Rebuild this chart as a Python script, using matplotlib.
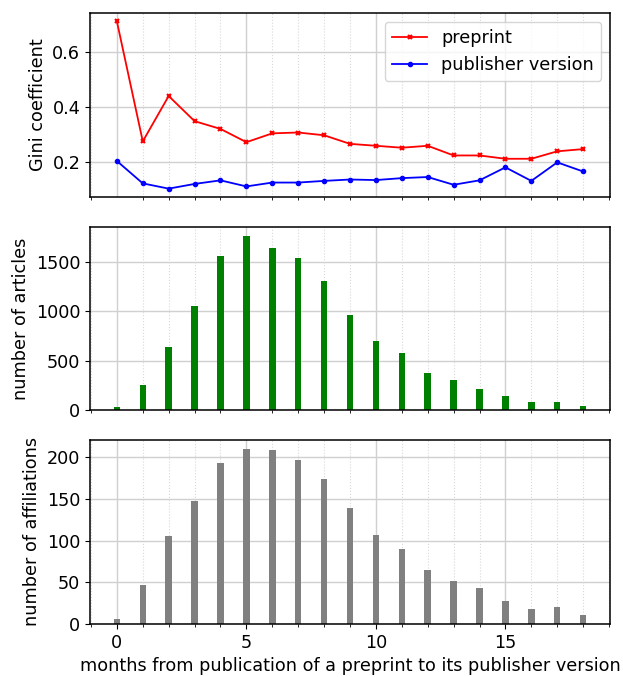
import matplotlib
matplotlib.use("Agg")
import matplotlib.pyplot as plt
from matplotlib.ticker import MultipleLocator

months = list(range(19))
gini_preprint = [0.710, 0.276, 0.440, 0.349, 0.321, 0.273, 0.305, 0.308, 0.298, 0.267,
                 0.260, 0.253, 0.260, 0.225, 0.225, 0.213, 0.213, 0.240, 0.248]
gini_publisher = [0.205, 0.124, 0.105, 0.122, 0.135, 0.113, 0.127, 0.127, 0.133, 0.138,
                  0.136, 0.143, 0.147, 0.119, 0.135, 0.182, 0.133, 0.200, 0.167]
n_articles = [27, 249, 632, 1053, 1554, 1762, 1638, 1537, 1302, 959,
              700, 572, 377, 303, 212, 145, 84, 84, 40]
n_affiliations = [6, 47, 105, 147, 193, 210, 209, 196, 174, 139,
                  107, 90, 65, 52, 43, 28, 18, 20, 11]

FS = 12.7
plt.rcParams['font.family'] = ['DejaVu Sans']
plt.rcParams['font.size'] = FS

fig = plt.figure(figsize=(6.23, 6.77), dpi=100)
L, W = 90/623, 520/623
ax1 = fig.add_axes([L, 1-197/677, W, 184/677])
ax2 = fig.add_axes([L, 1-410/677, W, 183/677], sharex=ax1)
ax3 = fig.add_axes([L, 1-624/677, W, 184/677], sharex=ax1)

ax1.plot(months, gini_preprint, color='red', marker='x', markersize=3, mew=1.5, lw=1.3, label='preprint')
ax1.plot(months, gini_publisher, color='blue', marker='o', markersize=3, lw=1.3, label='publisher version')
ax1.set_ylabel('Gini coefficient')
ax1.legend(loc='upper right', fontsize=FS)

ax2.bar(months, n_articles, width=0.25, color='green')
ax2.set_ylabel('number of articles')

ax3.bar(months, n_affiliations, width=0.25, color='gray')
ax3.set_ylabel('number of affiliations')
ax3.set_xlabel('months from publication of a preprint to its publisher version')

for ax in (ax1, ax2, ax3):
    ax.xaxis.set_major_locator(MultipleLocator(5))
    ax.xaxis.set_minor_locator(MultipleLocator(1))
    ax.grid(True, which='major', color='#d0d0d0', lw=1.0)
    ax.grid(True, which='minor', axis='x', color='#d8d8d8', lw=0.8, ls=':')
    ax.set_axisbelow(True)
    for s in ax.spines.values():
        s.set_linewidth(1.1)
for ax in (ax1, ax2):
    ax.tick_params(axis='x', which='major', length=0, labelbottom=False)
    ax.tick_params(axis='x', which='minor', labelbottom=False)

fig.savefig('out.png', dpi=100)
